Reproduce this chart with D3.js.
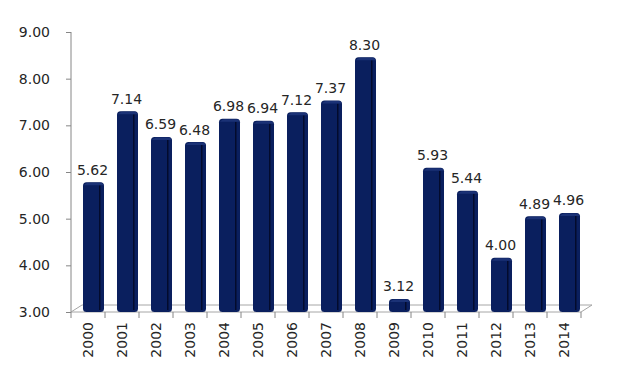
<!DOCTYPE html>
<html>
<head>
<meta charset="utf-8">
<script src="https://cdn.jsdelivr.net/npm/d3@7"></script>
<style>
  body { margin: 0; background: #fff; }
  text { font-family: "DejaVu Sans", Verdana, sans-serif; fill: #262626; }
</style>
</head>
<body>
<div id="chart"></div>
<script>
// chart data
var years = ["2000","2001","2002","2003","2004","2005","2006","2007","2008","2009","2010","2011","2012","2013","2014"];
var values = [5.62, 7.14, 6.59, 6.48, 6.98, 6.94, 7.12, 7.37, 8.30, 3.12, 5.93, 5.44, 4.00, 4.89, 4.96];
var yTicks = [3, 4, 5, 6, 7, 8, 9];

var W = 621, H = 368;
// plot area edges ("top" is taken on window, so keep them in an object)
var plot = {left: 71, right: 581, top: 32, bottom: 312};
var depth = {x: 11, y: -7}; // 3d floor offset

var svg = d3.select("#chart").append("svg")
    .attr("width", W)
    .attr("height", H);

var x = d3.scaleBand()
    .domain(years)
    .range([plot.left, plot.right]);

var y = d3.scaleLinear()
    .domain([3, 9])
    .range([plot.bottom, plot.top]);

// floor (3d base)
svg.append("path")
    .attr("fill", "none")
    .attr("stroke", "#a6a6a6")
    .attr("d", "M" + plot.left + "," + plot.bottom + "L" + (plot.left + depth.x) + "," + (plot.bottom + depth.y) +
        "L" + (plot.right + depth.x) + "," + (plot.bottom + depth.y) + "L" + plot.right + "," + plot.bottom);

// y axis
var yAxis = d3.axisLeft(y)
    .tickValues(yTicks)
    .tickSize(5)
    .tickPadding(16)
    .tickFormat(d3.format(".2f"));

var gy = svg.append("g")
    .attr("transform", "translate(" + plot.left + ",0)")
    .call(yAxis);
gy.select(".domain").attr("stroke", "#868686").attr("d", "M0," + plot.top + "V" + plot.bottom);
gy.selectAll(".tick line").attr("stroke", "#868686");
gy.selectAll(".tick text").style("font-size", "14px");

// x axis
var xAxis = d3.axisBottom(x).tickSize(0).tickPadding(0);
var gx = svg.append("g")
    .attr("transform", "translate(0," + plot.bottom + ")")
    .call(xAxis);
gx.select(".domain").attr("stroke", "#a6a6a6").attr("d", "M" + plot.left + ",0H" + plot.right);
gx.selectAll(".tick text")
    .style("font-size", "14px")
    .attr("text-anchor", "end")
    .attr("transform", "rotate(-90)")
    .attr("x", -10)
    .attr("y", 0)
    .attr("dy", "0.35em");
// tick marks between categories
gx.selectAll(".sep")
    .data(d3.range(years.length + 1))
    .enter().append("line")
    .attr("class", "sep")
    .attr("x1", i => plot.left + i * x.bandwidth())
    .attr("x2", i => plot.left + i * x.bandwidth())
    .attr("y1", 0)
    .attr("y2", 6)
    .attr("stroke", "#868686");

// bars
var bw = 21, bx = 12, lift = 7.5;
var bars = svg.append("g").selectAll(".bar")
    .data(years.map((d, i) => ({year: d, value: values[i]})))
    .enter().append("g")
    .attr("class", "bar");

bars.append("rect")
    .attr("x", d => x(d.year) + bx)
    .attr("y", d => y(d.value) - lift)
    .attr("width", bw)
    .attr("height", d => plot.bottom - y(d.value) + lift)
    .attr("rx", 3.5)
    .attr("fill", "#0a1f5e");

// dark edge between front and side face
bars.append("rect")
    .attr("x", d => x(d.year) + bx + bw - 5)
    .attr("y", d => y(d.value) - lift + 3)
    .attr("width", 1.5)
    .attr("height", d => plot.bottom - y(d.value) + lift - 5)
    .attr("fill", "#030b2c");

// lighter top bevel
bars.append("path")
    .attr("d", d => {
        var x0 = x(d.year) + bx, t = y(d.value) - lift;
        return "M" + (x0 + 0.5) + "," + (t + 4) + "Q" + (x0 + 2) + "," + (t + 0.5) + " " + (x0 + 6) + "," + (t + 0.5) +
            "H" + (x0 + bw - 3) + "Q" + (x0 + bw - 0.5) + "," + (t + 1) + " " + (x0 + bw - 1) + "," + (t + 3) + "H" + (x0 + 0.5) + "Z";
    })
    .attr("fill", "#1b3276");

// value labels
bars.append("text")
    .attr("x", d => x(d.year) + bx + bw / 2 - 1)
    .attr("y", d => y(d.value) - 20)
    .attr("dy", "0.35em")
    .attr("text-anchor", "middle")
    .style("font-size", "14px")
    .text(d => d3.format(".2f")(d.value));
</script>
</body>
</html>
